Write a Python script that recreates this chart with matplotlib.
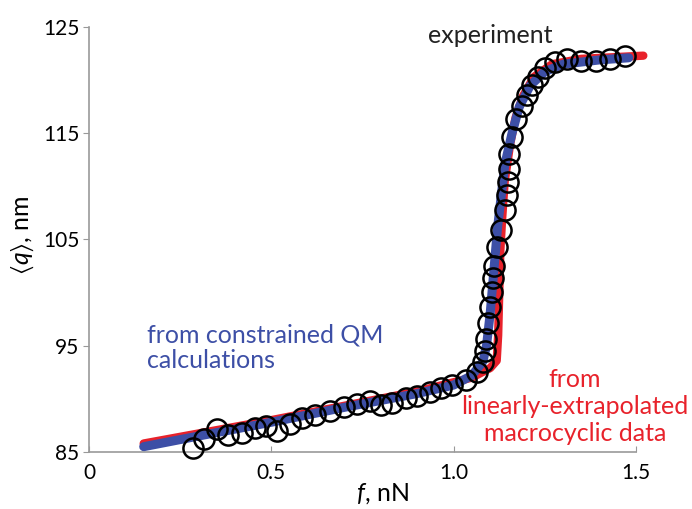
import matplotlib
matplotlib.use("Agg")
import matplotlib.pyplot as plt

plt.rcParams['font.family'] = ['Lato', 'DejaVu Sans']
plt.rcParams['mathtext.fontset'] = 'custom'
plt.rcParams['mathtext.it'] = 'Lato:italic'
plt.rcParams['mathtext.rm'] = 'Lato'
plt.rcParams['mathtext.fallback'] = 'stixsans'

# experiment (circles)
exp_f = [0.285, 0.315, 0.35, 0.38, 0.42, 0.455, 0.485, 0.515, 0.55, 0.585,
         0.62, 0.66, 0.70, 0.735, 0.77, 0.80, 0.83, 0.87, 0.90, 0.935,
         0.965, 0.995, 1.035, 1.065, 1.08, 1.085, 1.09, 1.095, 1.10, 1.104,
         1.107, 1.11, 1.118, 1.13, 1.14, 1.145, 1.148, 1.152, 1.153, 1.16,
         1.17, 1.186, 1.20, 1.214, 1.23, 1.25, 1.277, 1.31, 1.35, 1.39,
         1.43, 1.47]
exp_q = [85.4, 86.2, 87.2, 86.6, 86.8, 87.3, 87.4, 87.0, 87.6, 88.2,
         88.5, 88.9, 89.2, 89.5, 89.8, 89.4, 89.6, 90.1, 90.3, 90.6,
         91.0, 91.3, 91.8, 92.5, 93.5, 94.5, 95.6, 97.1, 98.6, 100.1,
         101.4, 102.5, 104.3, 105.9, 107.8, 109.2, 110.4, 111.6, 113.0, 114.6,
         116.3, 117.6, 118.6, 119.5, 120.3, 121.1, 121.7, 122.0, 121.8, 121.8,
         122.0, 122.3]

# constrained QM calculations (blue)
qm_f = [0.15, 0.3, 0.5, 0.7, 0.9, 1.0, 1.05, 1.08, 1.09, 1.10, 1.11, 1.12,
        1.13, 1.14, 1.16, 1.18, 1.21, 1.25, 1.3, 1.4, 1.48]
qm_q = [85.5, 86.5, 87.8, 89.2, 90.5, 91.3, 92.2, 93.5, 95.0, 98.0, 102.0, 106.0,
        109.0, 112.0, 115.0, 117.5, 119.5, 120.8, 121.5, 121.9, 122.1]

# linearly-extrapolated macrocyclic data (red)
mc_f = [0.15, 0.5, 0.9, 1.05, 1.10, 1.118, 1.122, 1.125, 1.128, 1.133, 1.14,
        1.155, 1.17, 1.19, 1.22, 1.27, 1.35, 1.52]
mc_q = [85.8, 88.0, 90.7, 92.0, 92.9, 93.6, 96.0, 100.0, 104.0, 107.0, 110.5,
        114.0, 116.5, 118.5, 120.3, 121.5, 122.0, 122.3]

blue = '#3d4fa6'
red = '#e8222b'

fig = plt.figure(figsize=(6.92, 5.09), dpi=100)
ax = fig.add_axes([0.1286, 0.112, 0.7905, 0.835])

ax.plot(mc_f, mc_q, color=red, lw=6, solid_capstyle='round', clip_on=False, zorder=2)
ax.plot(qm_f, qm_q, color=blue, lw=6.5, solid_capstyle='round', clip_on=False, zorder=3)
ax.plot(exp_f, exp_q, 'o', mfc='none', mec='black', mew=1.8, ms=14.5, clip_on=False, zorder=4)

ax.set_xlim(0, 1.5)
ax.set_ylim(85, 125)
ax.set_xticks([0, 0.5, 1.0, 1.5])
ax.set_xticklabels(['0', '0.5', '1.0', '1.5'])
ax.set_yticks([85, 95, 105, 115, 125])

for s in ['top', 'right']:
    ax.spines[s].set_visible(False)
for s in ['left', 'bottom']:
    ax.spines[s].set_color('#999999')
    ax.spines[s].set_linewidth(1.2)

ax.tick_params(axis='y', direction='out', length=4, color='#999999', labelsize=15, pad=3)
ax.tick_params(axis='x', direction='in', length=4, color='#999999', labelsize=15, pad=8)

ax.set_xlabel('$f$, nN', fontsize=18)
ax.xaxis.set_label_coords(0.536, -0.068)
ax.set_ylabel(r'$\langle q\rangle$, nm', fontsize=18)
ax.yaxis.set_label_coords(-0.097, 0.51)

ax.text(0.16, 94.8, 'from constrained QM\ncalculations', color=blue, fontsize=18,
        ha='left', va='center', linespacing=1.15)
ax.text(1.332, 89.3, 'from\nlinearly-extrapolated\nmacrocyclic data', color=red,
        fontsize=18, ha='center', va='center', linespacing=1.2)
ax.text(1.101, 124.2, 'experiment', color='#222222', fontsize=18, ha='center', va='center')

fig.savefig('out.png', dpi=100)
